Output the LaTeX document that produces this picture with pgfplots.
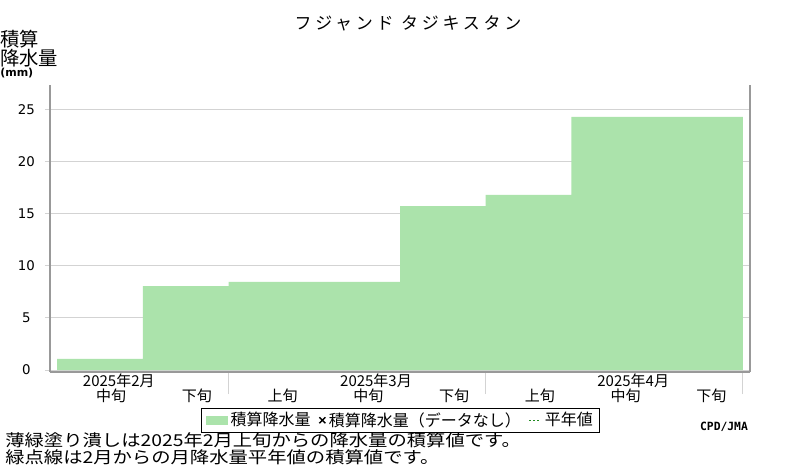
\documentclass[border=0pt]{standalone}
\usepackage{fontspec}
\setmainfont{Noto Sans CJK JP}
\newfontfamily\dejavu{DejaVu Sans}
\newfontfamily\dejavumono{DejaVu Sans Mono}
\usepackage{graphicx}
\usepackage{pgfplots}
\pgfplotsset{compat=1.18}
\definecolor{barcol}{HTML}{ABE3AB}
\definecolor{gridcol}{HTML}{D3D3D3}
\definecolor{framecol}{HTML}{999999}
\definecolor{normcol}{HTML}{228B22}

% 1px = 0.75pt; picture 800x470 px
\begin{document}
\begin{tikzpicture}
\useasboundingbox (0,0) rectangle (600pt,-352.5pt);
\begin{axis}[
    at={(37.5pt,-279pt)}, anchor=south west,
    width=525pt, height=215.25pt, scale only axis,
    xmin=-0.082, xmax=8.082,
    ymin=-0.19, ymax=27.32,
    axis x line*=bottom, axis y line*=box,
    axis line style={framecol, line width=1.8pt},
    xtick pos=bottom, ytick pos=left,
    tick align=outside,
    ytick={0,5,...,25},
    ymajorgrids, grid style={gridcol, line width=0.75pt},
    major tick length=3.75pt,
    minor tick length=16.5pt,
    major y tick style={gridcol, line width=0.75pt},
    major x tick style={draw=none},
    minor x tick style={gridcol, line width=0.75pt},
    minor xtick={2,5,8},
    xtick={0.63,1.63,2.63,3.63,4.63,5.63,6.63,7.63},
    xticklabels={中旬,下旬,上旬,中旬,下旬,上旬,中旬,下旬},
    xticklabel style={font=\fontsize{11.25}{13}\selectfont, anchor=center, yshift=-14pt},
    extra x ticks={0.72,3.72,6.72},
    extra x tick labels={2025年2月,2025年3月,2025年4月},
    extra x tick style={tick style={draw=none}, xticklabel style={yshift=11pt}},
    yticklabel style={font=\dejavu\fontsize{10}{12}\selectfont, anchor=center, xshift=-14pt},
    /pgf/number format/assume math mode=true,
    legend columns=-1,
    legend style={at={(0.501,-0.125)}, anchor=north, draw=black, line width=0.75pt,
        font=\fontsize{12}{14}\selectfont, inner xsep=3pt, inner ysep=1pt,
        /tikz/every even column/.append style={column sep=4pt}},
]
\addplot[fill=barcol, draw=none, const plot mark left,
    legend image code/.code={\fill[barcol] (0pt,-3.5pt) rectangle (16.5pt,3.5pt);}]
    coordinates {(0,1.08) (1,8.05) (2,8.44) (3,8.44) (4,15.72) (5,16.78) (6,24.26) (7,24.26) (8,24.26)} \closedcycle;
\addlegendentry{積算降水量}
\addlegendimage{legend image code/.code={\draw[black, line width=1.1pt] (0pt,-2.2pt)--(4.5pt,2.2pt) (0pt,2.2pt)--(4.5pt,-2.2pt);}}
\addlegendentry{積算降水量（データなし）}
\addlegendimage{legend image code/.code={\draw[normcol, line width=1pt, dash pattern=on 1.5pt off 1.5pt] (-3pt,0pt)--(6pt,0pt);}}
\addlegendentry{平年値}
\end{axis}
\node[font=\fontsize{12.75}{14}\selectfont\addfontfeatures{LetterSpace=22}] at (306pt,-17.6pt) {フジャンド タジキスタン};
\node[anchor=west, inner sep=0, font=\fontsize{14.5}{15}\selectfont] at (0,-29.25pt) {積算};
\node[anchor=west, inner sep=0, font=\fontsize{14.5}{15}\selectfont] at (0,-43.5pt) {降水量};
\node[anchor=west, inner sep=0, font=\dejavu\bfseries\fontsize{8.25}{9}\selectfont] at (0,-54.75pt) {(mm)};
\node[anchor=west, inner sep=0, font=\fontsize{14.5}{15}\selectfont] at (3.75pt,-330pt) {\scalebox{1}[0.85]{薄緑塗り潰しは2025年2月上旬からの降水量の積算値です。}};
\node[anchor=west, inner sep=0, font=\fontsize{14.5}{15}\selectfont] at (3.75pt,-342.75pt) {\scalebox{1}[0.85]{緑点線は2月からの月降水量平年値の積算値です。}};
\node[font=\dejavumono\bfseries\fontsize{8.5}{9}\selectfont] at (543pt,-320.25pt) {CPD/JMA};
\end{tikzpicture}
\end{document}
